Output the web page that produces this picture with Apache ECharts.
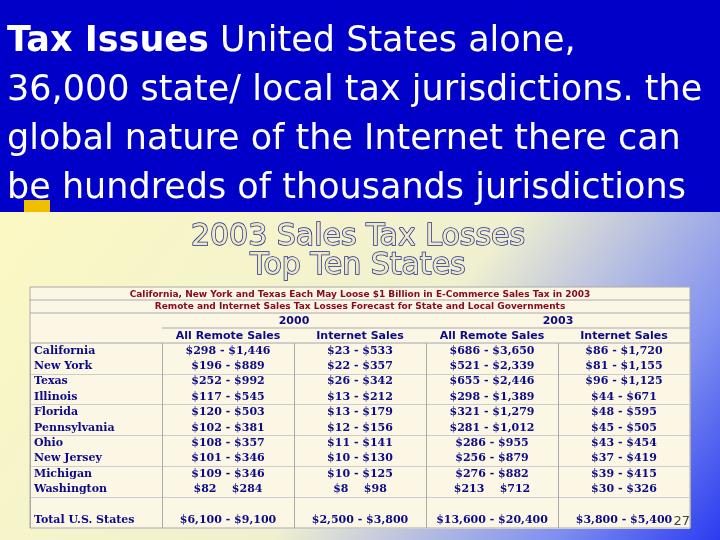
<!DOCTYPE html>
<html><head><meta charset="utf-8">
<script src="https://cdn.jsdelivr.net/npm/echarts@6/dist/echarts.min.js"></script>
<style>html,body{margin:0;padding:0}</style>
</head><body>
<div id="main" style="width:720px;height:540px"></div>
<script>
var states = ['California','New York','Texas','Illinois','Florida','Pennsylvania','Ohio','New Jersey','Michigan','Washington','','Total U.S. States']
var remote2000 = ['$298 - $1,446','$196 - $889','$252 - $992','$117 - $545','$120 - $503','$102 - $381','$108 - $357','$101 - $346','$109 - $346','$82    $284','','$6,100 - $9,100']
var internet2000 = ['$23 - $533','$22 - $357','$26 - $342','$13 - $212','$13 - $179','$12 - $156','$11 - $141','$10 - $130','$10 - $125','$8    $98','','$2,500 - $3,800']
var remote2003 = ['$686 - $3,650','$521 - $2,339','$655 - $2,446','$298 - $1,389','$321 - $1,279','$281 - $1,012','$286 - $955','$256 - $879','$276 - $882','$213    $712','','$13,600 - $20,400']
var internet2003 = ['$86 - $1,720','$81 - $1,155','$96 - $1,125','$44 - $671','$48 - $595','$45 - $505','$43 - $454','$37 - $419','$39 - $415','$30 - $326','','$3,800 - $5,400']
var columns = ['state','r2000','i2000','r2003','i2003']

var cols = [states, remote2000, internet2000, remote2003, internet2003]
var cells = []
cols.forEach(function (c, ci) {
  c.forEach(function (v, ri) { cells.push([ci, ri, v]) })
})

var myChart = echarts.init(document.getElementById('main'))
var hdr = {fontFamily:'DejaVu Sans', fontWeight:'bold', fontSize:11, fill:'#0a0a8a'}
myChart.setOption({
  backgroundColor: {type:'linear', x:0, y:0, x2:1, y2:1, colorStops:[
    {offset:0, color:'#fffbc0'}, {offset:0.6, color:'#f0f0d0'}, {offset:0.85, color:'#8090f0'}, {offset:1, color:'#2a3cf0'}]},
  graphic: [
    {type:'rect', shape:{x:0,y:0,width:720,height:212}, style:{fill:'#0000c8'}},
    {type:'rect', shape:{x:24,y:200,width:26,height:12}, style:{fill:'#f0c000'}},
    {type:'text', left:7, top:17, style:{rich:{b:{fontWeight:'bold', fontSize:35, fill:'#fff', fontFamily:'DejaVu Sans'}}, text:'{b|Tax Issues} United States alone,\n36,000 state/ local tax jurisdictions. the\nglobal nature of the Internet there can\nbe hundreds of thousands jurisdictions',
      fill:'#fff', fontFamily:'DejaVu Sans', fontSize:35, lineHeight:49}},
    {type:'text', x:358, y:223, style:{text:'2003 Sales Tax Losses\nTop Ten States', align:'center', fill:'#f0e8c0', stroke:'#1a2a9a', lineWidth:1.5,
      fontFamily:'DejaVu Sans', fontSize:30, lineHeight:29}},
    {type:'rect', shape:{x:30,y:287,width:660,height:56}, style:{fill:'#fbf7e4', stroke:'#aaaaaa', lineWidth:1}},
    {type:'line', shape:{x1:30,y1:300,x2:690,y2:300}, style:{stroke:'#aaa'}},
    {type:'line', shape:{x1:30,y1:313,x2:690,y2:313}, style:{stroke:'#aaa'}},
    {type:'line', shape:{x1:162,y1:328,x2:690,y2:328}, style:{stroke:'#aaa'}},
    {type:'text', x:360, y:295, style:{text:'California, New York and Texas Each May Loose $1 Billion in E-Commerce Sales Tax in 2003', align:'center', verticalAlign:'middle', fontFamily:'DejaVu Sans', fontWeight:'bold', fontSize:9, fill:'#8a0a20'}},
    {type:'text', x:360, y:307, style:{text:'Remote and Internet Sales Tax Losses Forecast for State and Local Governments', align:'center', verticalAlign:'middle', fontFamily:'DejaVu Sans', fontWeight:'bold', fontSize:9, fill:'#8a0a20'}},
    {type:'text', x:294, y:321, style:Object.assign({text:'2000', align:'center', verticalAlign:'middle'}, hdr)},
    {type:'text', x:558, y:321, style:Object.assign({text:'2003', align:'center', verticalAlign:'middle'}, hdr)},
    {type:'text', x:228, y:336, style:Object.assign({text:'All Remote Sales', align:'center', verticalAlign:'middle'}, hdr)},
    {type:'text', x:360, y:336, style:Object.assign({text:'Internet Sales', align:'center', verticalAlign:'middle'}, hdr)},
    {type:'text', x:492, y:336, style:Object.assign({text:'All Remote Sales', align:'center', verticalAlign:'middle'}, hdr)},
    {type:'text', x:624, y:336, style:Object.assign({text:'Internet Sales', align:'center', verticalAlign:'middle'}, hdr)},
    {type:'text', right:30, bottom:12, style:{text:'27', fill:'#444', fontFamily:'DejaVu Sans', fontSize:13}}
  ],
  grid: {left:30, right:30, top:343, bottom:12, show:true, backgroundColor:'#fbf7e4', borderColor:'#aaaaaa'},
  xAxis: {type:'category', data:columns, axisLabel:{show:false}, axisTick:{show:false}, axisLine:{show:false},
    splitLine:{show:true, lineStyle:{color:'#aaaaaa'}}},
  yAxis: {type:'category', data:states, inverse:true, axisLabel:{show:false}, axisTick:{show:false}, axisLine:{show:false},
    splitLine:{show:true, lineStyle:{color:'#cccccc'}}},
  series: [{
    type:'custom', data:cells,
    renderItem: function (params, api) {
      var ci = api.value(0), ri = api.value(1)
      var p = api.coord([ci, ri])
      var w = api.size([1, 1])[0]
      var txt = cells[params.dataIndex][2]
      return {type:'text', x: ci === 0 ? p[0] - w/2 + 4 : p[0], y: p[1],
        style:{text:txt, align: ci === 0 ? 'left' : 'center', verticalAlign:'middle',
          fontFamily:'DejaVu Serif', fontWeight:'bold', fontSize:11, fill:'#0a0a8a'}}
    }
  }]
})
</script>
</body></html>
